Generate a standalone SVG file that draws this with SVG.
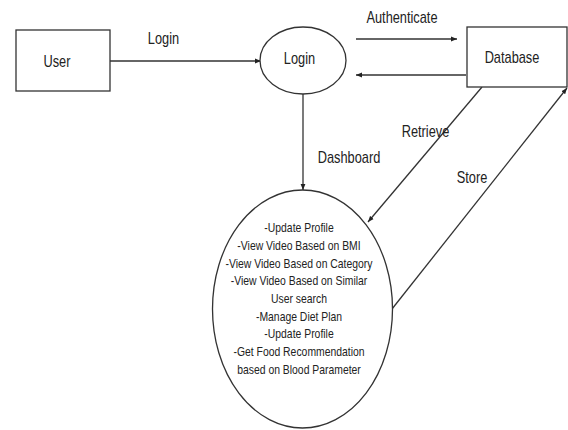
<svg xmlns="http://www.w3.org/2000/svg" width="568" height="430" viewBox="0 0 568 430">
<defs>
<marker id="arr" viewBox="0 0 10 10" refX="10" refY="5" markerWidth="6" markerHeight="6" orient="auto" markerUnits="userSpaceOnUse">
<path d="M0,1 L10,5 L0,9 z" fill="#222"/>
</marker>
<style>
.shape{fill:#fff;stroke:#333;stroke-width:1.3}
.conn{fill:none;stroke:#333;stroke-width:1.3}
text{font-family:"Liberation Sans",Arial,sans-serif;fill:#222;text-anchor:middle}
.lbl{font-size:16px}
.item{font-size:13px}
</style>
</defs>
<rect width="568" height="430" fill="#fff"/>
<g id="connectors">
<line class="conn" x1="110" y1="61" x2="261" y2="61" marker-end="url(#arr)"/>
<line class="conn" x1="356" y1="39" x2="457" y2="39" marker-end="url(#arr)"/>
<line class="conn" x1="466" y1="75" x2="356" y2="75" marker-end="url(#arr)"/>
<line class="conn" x1="303" y1="94" x2="303" y2="190" marker-end="url(#arr)"/>
<line class="conn" x1="482" y1="87" x2="368" y2="222" marker-end="url(#arr)"/>
<line class="conn" x1="392" y1="309" x2="567" y2="88" marker-end="url(#arr)"/>
<text class="lbl" transform="matrix(0.8 0 0 1 163.5 0)" x="0" y="44">Login</text>
<text class="lbl" transform="matrix(0.8 0 0 1 402 0)" x="0" y="23">Authenticate</text>
<text class="lbl" transform="matrix(0.8 0 0 1 349 0)" x="0" y="163">Dashboard</text>
<text class="lbl" transform="matrix(0.8 0 0 1 425.5 0)" x="0" y="137">Retrieve</text>
<text class="lbl" transform="matrix(0.8 0 0 1 472 0)" x="0" y="183">Store</text>
</g>
<g id="user">
<rect class="shape" x="16" y="30" width="94" height="61"/>
<text class="lbl" transform="matrix(0.8 0 0 1 57 0)" x="0" y="67">User</text>
</g>
<g id="login">
<ellipse class="shape" cx="303" cy="60.5" rx="43" ry="33.5"/>
<text class="lbl" transform="matrix(0.8 0 0 1 299.5 0)" x="0" y="64">Login</text>
</g>
<g id="database">
<rect class="shape" x="467" y="27" width="100" height="60"/>
<text class="lbl" transform="matrix(0.8 0 0 1 512 0)" x="0" y="63">Database</text>
</g>
<g id="dashboard">
<ellipse class="shape" cx="302.5" cy="309" rx="90" ry="119"/>
<g transform="matrix(0.8 0 0 1 299 0)">
<text class="item" x="0" y="232.3">-Update Profile</text>
<text class="item" x="0" y="250">-View Video Based on BMI</text>
<text class="item" x="0" y="267.7">-View Video Based on Category</text>
<text class="item" x="0" y="285.4">-View Video Based on Similar</text>
<text class="item" x="0" y="303.1">User search</text>
<text class="item" x="0" y="320.8">-Manage Diet Plan</text>
<text class="item" x="0" y="338.5">-Update Profile</text>
<text class="item" x="0" y="356.2">-Get Food Recommendation</text>
<text class="item" x="0" y="374">based on Blood Parameter</text>
</g>
</g>
</svg>
